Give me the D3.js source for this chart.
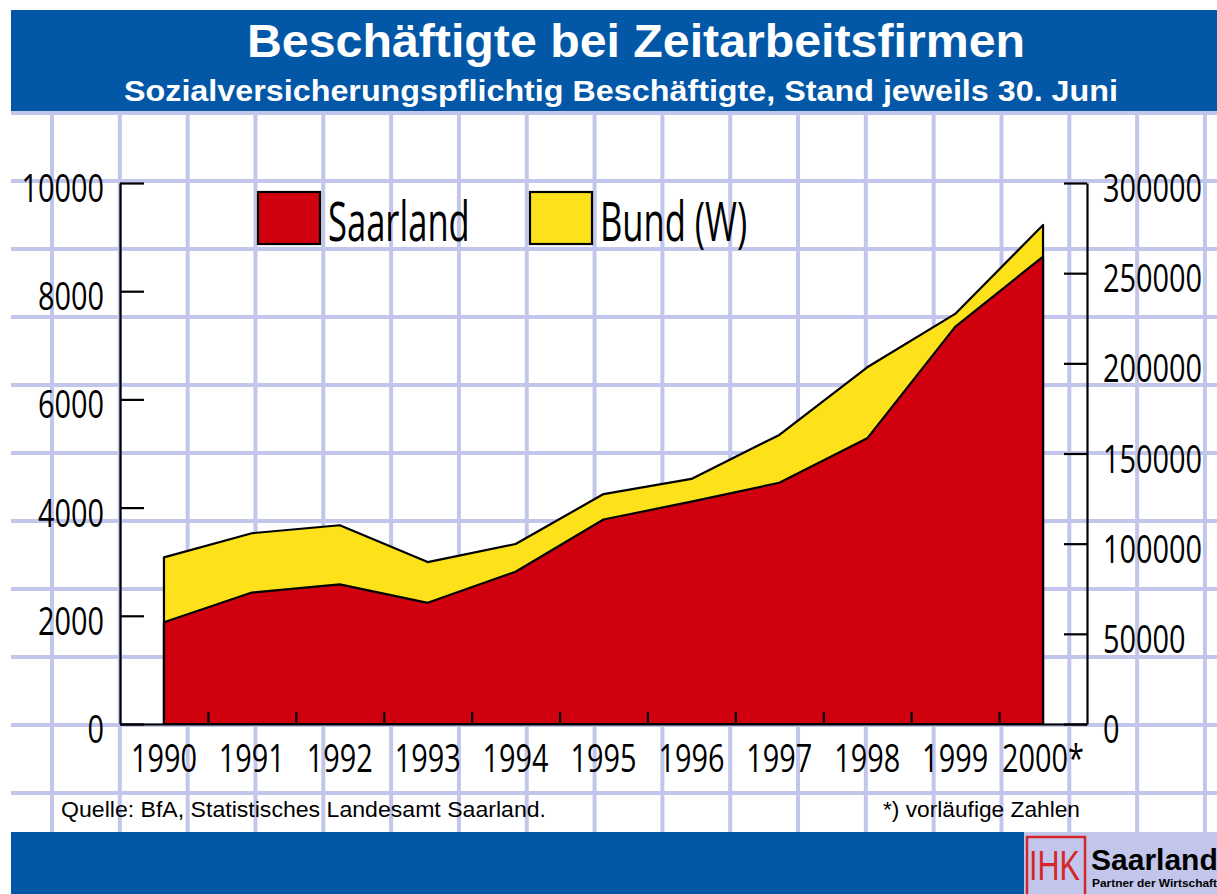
<!DOCTYPE html>
<html><head><meta charset="utf-8">
<script src="https://cdn.jsdelivr.net/npm/d3@7"></script>
<style>
html,body{margin:0;padding:0;background:#fff;}
svg{display:block;}
</style></head>
<body>
<svg id="chart" width="1217" height="894"></svg>
<script>
// ---- data ----
const years = ["1990","1991","1992","1993","1994","1995","1996","1997","1998","1999","2000"];
const yearLabels = ["1990","1991","1992","1993","1994","1995","1996","1997","1998","1999","2000*"];
const saarland = [1880, 2430, 2580, 2240, 2815, 3780, 4110, 4460, 5280, 7340, 8640];
const bundW = [92400, 105800, 110200, 89800, 99800, 127500, 135900, 160300, 197800, 227400, 276700];
const leftTicks = [0, 2000, 4000, 6000, 8000, 10000];
const rightTicks = [0, 50000, 100000, 150000, 200000, 250000, 300000];
const seriesNames = ["Saarland", "Bund (W)"];
const title = "Beschäftigte bei Zeitarbeitsfirmen";
const subtitle = "Sozialversicherungspflichtig Beschäftigte, Stand jeweils 30. Juni";
const source = "Quelle: BfA, Statistisches Landesamt Saarland.";
const note = "*) vorläufige Zahlen";

// ---- styles ----
const BLUE = "#0357a7", RED = "#d0000f", YELLOW = "#fde21b", GRID = "#c2c6ea";
const SANS = "'Liberation Sans', Arial, sans-serif";
const LAB = "'Open Sans', 'Liberation Sans', sans-serif";

const svg = d3.select("#chart");

// background grid
svg.append("rect").attr("x",11).attr("y",111).attr("width",1206).attr("height",721).attr("fill","#fff");
const gGrid = svg.append("g").attr("stroke", GRID).attr("stroke-width", 4);
d3.range(0, 18).forEach(k => {
  const gx = 52 + 67.82 * k;
  gGrid.append("line").attr("x1", gx).attr("x2", gx).attr("y1", 111).attr("y2", 832);
});
d3.range(0, 11).forEach(k => {
  const gy = 113 + 68 * k;
  gGrid.append("line").attr("x1", 11).attr("x2", 1217).attr("y1", gy).attr("y2", gy);
});

// header
svg.append("rect").attr("x",11).attr("y",10).attr("width",1206).attr("height",101).attr("fill",BLUE);
svg.append("text").attr("x",636).attr("y",57).attr("text-anchor","middle")
  .attr("font-family",SANS).attr("font-weight","bold").attr("font-size",46).attr("fill","#fff")
  .attr("textLength",778).attr("lengthAdjust","spacingAndGlyphs").text(title);
svg.append("text").attr("x",621).attr("y",101).attr("text-anchor","middle")
  .attr("font-family",SANS).attr("font-weight","bold").attr("font-size",30).attr("fill","#fff")
  .attr("textLength",994).attr("lengthAdjust","spacingAndGlyphs").text(subtitle);

// footer
svg.append("rect").attr("x",11).attr("y",832).attr("width",1013).attr("height",62).attr("fill",BLUE);
svg.append("rect").attr("x",1024).attr("y",832).attr("width",193).attr("height",62).attr("fill",GRID);
svg.append("text").attr("x",61).attr("y",817).attr("font-family",SANS).attr("font-size",22).attr("fill","#000")
  .attr("textLength",485).attr("lengthAdjust","spacingAndGlyphs").text(source);
svg.append("text").attr("x",1080).attr("y",817).attr("text-anchor","end").attr("font-family",SANS).attr("font-size",22).attr("fill","#000")
  .attr("textLength",197).attr("lengthAdjust","spacingAndGlyphs").text(note);

// logo
svg.append("path").attr("d","M1027,894 V837 H1085 V894").attr("fill","none").attr("stroke","#d5262c").attr("stroke-width",2.5);
svg.append("text").attr("x",1029).attr("y",880).attr("font-family",SANS).attr("font-size",43).attr("fill","#d5262c")
  .attr("textLength",51).attr("lengthAdjust","spacingAndGlyphs").text("IHK");
svg.append("text").attr("x",1091).attr("y",870).attr("font-family",SANS).attr("font-weight","bold").attr("font-size",30).attr("fill","#000").text("Saarland");
svg.append("text").attr("x",1092).attr("y",887).attr("font-family",SANS).attr("font-weight","bold").attr("font-size",10.5).attr("fill","#000")
  .attr("textLength",125).attr("lengthAdjust","spacingAndGlyphs").text("Partner der Wirtschaft");

// scales
const x = d3.scalePoint().domain(years).range([120, 1087]).padding(0.5);
const xEdge = d3.scaleLinear().domain([0, years.length]).range([120, 1087]);
const yL = d3.scaleLinear().domain([0, 10000]).range([724, 183]);
const yR = d3.scaleLinear().domain([0, 300000]).range([724, 183]);

// areas
const areaB = d3.area().x((d,i) => x(years[i])).y0(yR(0)).y1(d => yR(d));
const areaS = d3.area().x((d,i) => x(years[i])).y0(yL(0)).y1(d => yL(d));
svg.append("path").datum(bundW).attr("d", areaB).attr("fill", YELLOW).attr("stroke","#000").attr("stroke-width",2.2).attr("stroke-linejoin","round");
svg.append("path").datum(saarland).attr("d", areaS).attr("fill", RED).attr("stroke","#000").attr("stroke-width",2.2).attr("stroke-linejoin","round");

// axes
function styleAxis(g){
  g.selectAll("path,line").attr("stroke","#000").attr("stroke-width",2.2);
  g.selectAll("text").remove();
}
svg.append("g").attr("transform","translate(120,0)")
  .call(d3.axisLeft(yL).tickValues(leftTicks).tickSize(-24).tickSizeOuter(0).tickFormat(""))
  .call(styleAxis);
svg.append("g").attr("transform","translate(1087,0)")
  .call(d3.axisRight(yR).tickValues(rightTicks).tickSize(-23).tickSizeOuter(0).tickFormat(""))
  .call(styleAxis);
svg.append("g").attr("transform","translate(0,724)")
  .call(d3.axisBottom(xEdge).tickValues(d3.range(1, years.length)).tickSize(-12).tickSizeOuter(0).tickFormat(""))
  .call(styleAxis);

// condensed label helper
function label(px, py, txt, size, sx, anchor){
  svg.append("g").attr("transform", `translate(${px},${py}) scale(${sx},1)`)
    .append("text").attr("text-anchor", anchor).attr("font-family", LAB)
    .attr("font-size", size).attr("fill", "#000").text(txt);
}
leftTicks.forEach(v => label(104, yL(v) + 19, d3.format("d")(v), 38, 0.76, "end"));
rightTicks.forEach(v => label(1103, yR(v) + 19, d3.format("d")(v), 38, 0.76, "start"));
years.forEach((yv, i) => label(x(yv), 772, yearLabels[i], 38, 0.76, "middle"));

// legend
const legendColors = [RED, YELLOW];
const legendX = [258, 530];
seriesNames.forEach((n, i) => {
  svg.append("rect").attr("x", legendX[i]).attr("y", 192).attr("width", 62).attr("height", 52)
    .attr("fill", legendColors[i]).attr("stroke", "#000").attr("stroke-width", 2.2);
  label(legendX[i] + 70, 241, n, 54, 0.64, "start");
});
</script>
</body></html>
